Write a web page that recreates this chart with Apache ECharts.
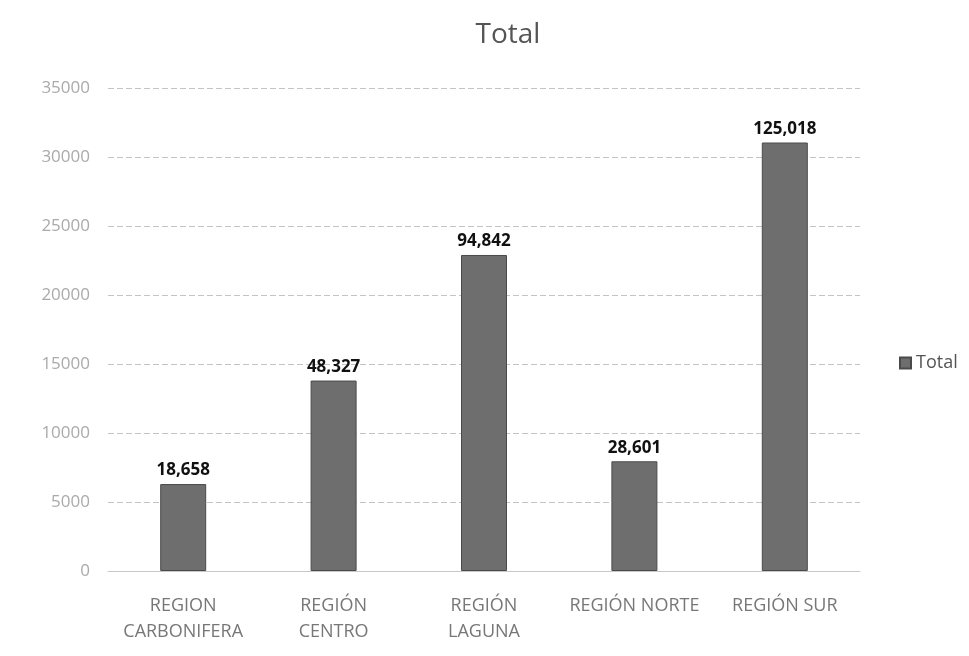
<!DOCTYPE html>
<html>
<head>
<meta charset="utf-8">
<script src="https://cdn.jsdelivr.net/npm/echarts@6/dist/echarts.min.js"></script>
<style>
  html, body { margin: 0; padding: 0; background: #fff; }
  #main { width: 969px; height: 656px; }
</style>
</head>
<body>
<div id="main"></div>
<script>
// categorias del eje x
var regions = ['REGION\nCARBONIFERA', 'REGIÓN\nCENTRO', 'REGIÓN\nLAGUNA', 'REGIÓN NORTE', 'REGIÓN SUR'];
var barValues = [6300, 13800, 22900, 7950, 31050];
// etiquetas impresas sobre cada barra
var barLabels = ['18,658', '48,327', '94,842', '28,601', '125,018'];

var myChart = echarts.init(document.getElementById('main'));

var option = {
    backgroundColor: '#fff',
    title: {
        text: 'Total',
        left: 503,
        top: 16,
        textAlign: 'center',
        textStyle: {
            fontFamily: 'Open Sans',
            fontWeight: 'normal',
            fontSize: 28,
            color: '#555'
        }
    },
    legend: {
        data: ['Total'],
        orient: 'vertical',
        left: 894,
        top: 349,
        itemWidth: 11,
        itemHeight: 11,
        itemGap: 6,
        icon: 'rect',
        textStyle: {
            fontFamily: 'Open Sans',
            fontSize: 18,
            color: '#555'
        }
    },
    grid: {
        left: 108,
        right: 109,
        top: 88,
        bottom: 85
    },
    xAxis: {
        type: 'category',
        data: regions,
        axisTick: { show: false },
        axisLine: { lineStyle: { color: '#c8c8c8', width: 1 } },
        axisLabel: {
            interval: 0,
            margin: 22,
            lineHeight: 26,
            fontFamily: 'Open Sans',
            fontSize: 18,
            color: '#777'
        }
    },
    yAxis: {
        type: 'value',
        min: 0,
        max: 35000,
        interval: 5000,
        axisLine: { show: false },
        axisTick: { show: false },
        axisLabel: {
            margin: 18,
            fontFamily: 'Open Sans',
            fontSize: 17,
            color: '#aaa',
            formatter: function (v) { return String(v); }
        },
        splitLine: {
            lineStyle: { color: '#c4c4c4', type: [6, 3], width: 1 }
        }
    },
    series: [{
        name: 'Total',
        type: 'bar',
        data: barValues,
        barWidth: 46,
        itemStyle: {
            color: '#6e6e6e',
            borderColor: '#4a4a4a',
            borderWidth: 1
        },
        label: {
            show: true,
            position: 'top',
            distance: 5,
            formatter: function (p) { return barLabels[p.dataIndex]; },
            fontFamily: 'Open Sans',
            fontWeight: 'bold',
            fontSize: 17,
            color: '#111'
        }
    }]
};

myChart.setOption(option);
</script>
</body>
</html>
